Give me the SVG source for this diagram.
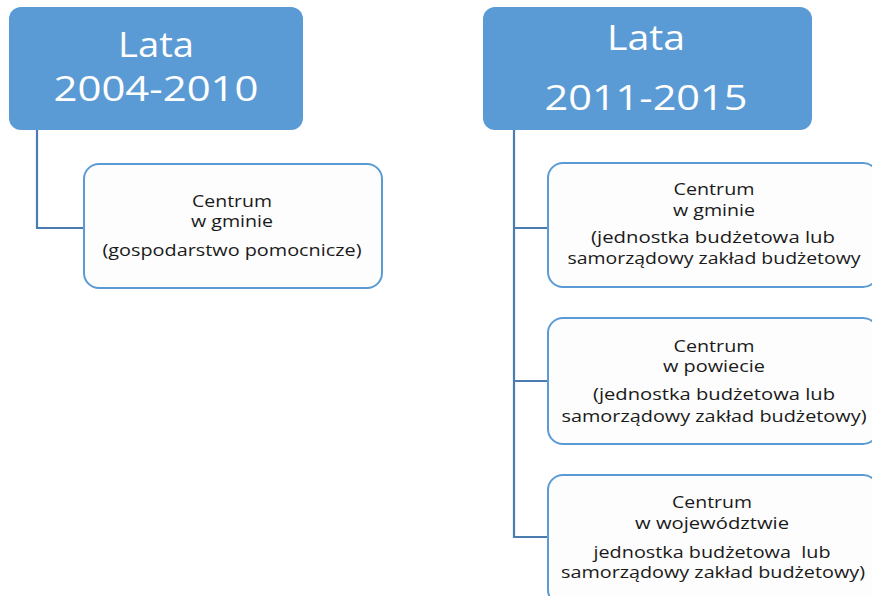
<svg xmlns="http://www.w3.org/2000/svg" width="872" height="596" viewBox="0 0 872 596">
<style>
.hdr{fill:#5b9bd5;}
.hdrt{fill:#ffffff;font-family:"Open Sans","Noto Sans",sans-serif;font-size:35.5px;text-anchor:middle;}
.box{fill:#fdfdfd;stroke:#5b9bd5;stroke-width:2;}
.bt{fill:#1a1a1a;font-family:"Open Sans","Noto Sans",sans-serif;font-size:15.5px;text-anchor:middle;white-space:pre;}
.con{fill:none;stroke:#4a7cb0;stroke-width:2.2;}
</style>
<rect width="872" height="596" fill="#ffffff"/>
<g id="connectors">
<path class="con" d="M37,130 V228 H84"/>
<path class="con" d="M514,130 V537 H548 M514,228 H548 M514,381 H548"/>
</g>
<g id="h1">
<rect class="hdr" x="9" y="7" width="294" height="123" rx="12"/>
<text class="hdrt" x="156" y="57" textLength="76" lengthAdjust="spacingAndGlyphs">Lata</text>
<text class="hdrt" x="156" y="101" textLength="205" lengthAdjust="spacingAndGlyphs">2004-2010</text>
</g>
<g id="h2">
<rect class="hdr" x="483" y="7" width="329" height="123" rx="12"/>
<text class="hdrt" x="646" y="50" textLength="78" lengthAdjust="spacingAndGlyphs">Lata</text>
<text class="hdrt" x="646" y="110" textLength="203" lengthAdjust="spacingAndGlyphs">2011-2015</text>
</g>
<g id="c1">
<rect class="box" x="84" y="164" width="298" height="124" rx="15"/>
<text class="bt" x="232" y="207" textLength="80" lengthAdjust="spacingAndGlyphs">Centrum</text>
<text class="bt" x="232" y="227" textLength="82" lengthAdjust="spacingAndGlyphs">w gminie</text>
<text class="bt" x="232" y="256" textLength="259" lengthAdjust="spacingAndGlyphs">(gospodarstwo pomocnicze)</text>
</g>
<g id="c2">
<rect class="box" x="548" y="163" width="330" height="124" rx="15"/>
<text class="bt" x="714" y="195" textLength="81" lengthAdjust="spacingAndGlyphs">Centrum</text>
<text class="bt" x="714" y="216" textLength="82" lengthAdjust="spacingAndGlyphs">w gminie</text>
<text class="bt" x="713" y="243" textLength="244" lengthAdjust="spacingAndGlyphs">(jednostka budżetowa lub</text>
<text class="bt" x="714" y="264" textLength="293" lengthAdjust="spacingAndGlyphs">samorządowy zakład budżetowy</text>
</g>
<g id="c3">
<rect class="box" x="548" y="318" width="330" height="126" rx="15"/>
<text class="bt" x="714" y="352" textLength="81" lengthAdjust="spacingAndGlyphs">Centrum</text>
<text class="bt" x="714" y="372" textLength="102" lengthAdjust="spacingAndGlyphs">w powiecie</text>
<text class="bt" x="714" y="400" textLength="242" lengthAdjust="spacingAndGlyphs">(jednostka budżetowa lub</text>
<text class="bt" x="714" y="422" textLength="305" lengthAdjust="spacingAndGlyphs">samorządowy zakład budżetowy)</text>
</g>
<g id="c4">
<rect class="box" x="548" y="475" width="330" height="130" rx="15"/>
<text class="bt" x="712" y="508" textLength="80" lengthAdjust="spacingAndGlyphs">Centrum</text>
<text class="bt" x="712" y="529" textLength="154" lengthAdjust="spacingAndGlyphs">w województwie</text>
<text class="bt" x="712" y="558" textLength="237" lengthAdjust="spacingAndGlyphs">jednostka budżetowa  lub</text>
<text class="bt" x="713" y="578" textLength="304" lengthAdjust="spacingAndGlyphs">samorządowy zakład budżetowy)</text>
</g>
</svg>
